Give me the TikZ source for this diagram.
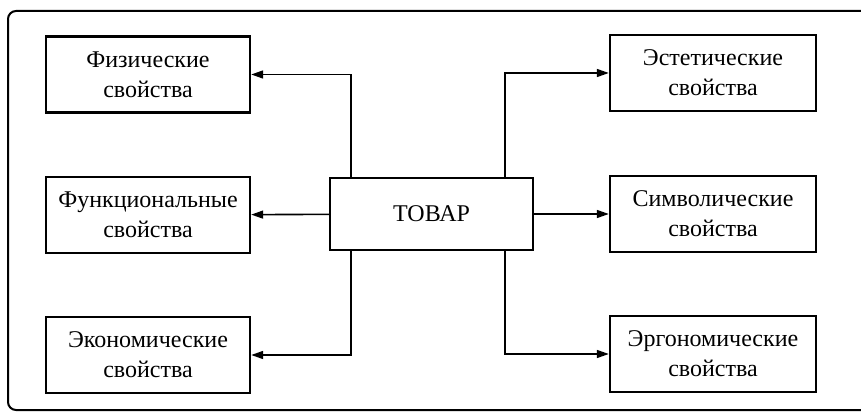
\documentclass[tikz,border=0pt]{standalone}
\usepackage{fontspec}
\setmainfont{Liberation Serif}
\usetikzlibrary{arrows.meta, positioning}
\tikzset{
  propbox/.style={rectangle, draw=black, line width=2.4pt, fill=white,
                  minimum width=204pt, minimum height=76pt, align=center,
                  font=\fontsize{24}{30}\selectfont},
  arr/.style={-{Triangle[length=12pt, width=8pt]}, line width=1.6pt},
  frame/.style={line width=2pt, rounded corners=8pt},
}
\begin{document}
\begin{tikzpicture}[x=1pt, y=-1pt]
  \useasboundingbox (0,0) rectangle (861,419);
  \draw[frame] (880,11) -- (8,11) -- (8,410) -- (880,410);

  \node[propbox, minimum width=203pt, minimum height=72pt] (tovar) at (431.5,214) {ТОВАР};

  % left column
  \node[propbox] (phys) at (148,74.5) {Физические\\свойства};
  \node[propbox] (func) at (148,215) {Функциональные\\свойства};
  \node[propbox] (econ) at (148,355) {Экономические\\свойства};

  % right column
  \node[propbox, minimum width=206pt] (aest) at (713,73) {Эстетические\\свойства};
  \node[propbox, minimum width=206pt] (symb) at (713,214) {Символические\\свойства};
  \node[propbox, minimum width=206pt] (ergo) at (713,354) {Эргономические\\свойства};

  \draw[arr] ([xshift=22pt]tovar.north west) |- (phys);
  \draw[arr] (tovar) -- (func);
  \draw[arr] ([xshift=22pt]tovar.south west) |- (econ);
  \draw[arr] ([xshift=-29pt]tovar.north east) |- (aest);
  \draw[arr] (tovar) -- (symb);
  \draw[arr] ([xshift=-29pt]tovar.south east) |- (ergo);
\end{tikzpicture}
\end{document}
